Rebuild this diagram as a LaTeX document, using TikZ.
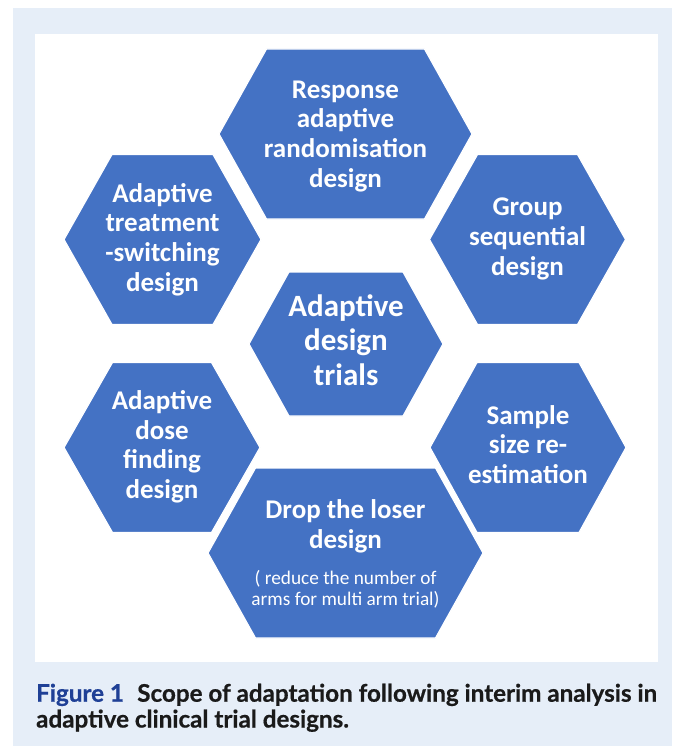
\documentclass[tikz,border=0pt]{standalone}
\usepackage{fontspec}
\setmainfont{Carlito}
\newfontfamily\capfont[BoldFeatures={FakeBold=0.6}]{Lato}
\definecolor{hexblue}{HTML}{4472C4}
\definecolor{panelblue}{HTML}{E6EEF8}
\definecolor{capblue}{HTML}{1F4096}
\definecolor{captext}{HTML}{1A1A1A}
\newcommand\hexshape[5]{% cx cy halfwidth halfheight inset
  \fill[hexblue, draw=white, line width=1.2pt]
    (#1-#3,#2) -- (#1-#3+#5,#2-#4) -- (#1+#3-#5,#2-#4) -- (#1+#3,#2)
    -- (#1+#3-#5,#2+#4) -- (#1-#3+#5,#2+#4) -- cycle;}
\tikzset{
  hexlabel/.style={text=white, font=\bfseries\fontsize{27}{29.6}\selectfont, align=center, anchor=base, inner sep=0pt},
  biglabel/.style={text=white, font=\bfseries\fontsize{31}{34.2}\selectfont, align=center, anchor=base, inner sep=0pt},
  smalllabel/.style={text=white, font=\fontsize{19.3}{21}\selectfont, align=center, anchor=base, inner sep=0pt},
  captionline/.style={text=captext, font=\capfont\bfseries\fontsize{24.2}{26}\selectfont, anchor=base west, inner sep=0pt}
}
\begin{document}
\begin{tikzpicture}[x=1pt,y=-1pt]
\useasboundingbox (0,0) rectangle (679,746);
\fill[panelblue] (12.7,7.7) rectangle (672,746);
\fill[white] (35,33.7) rectangle (658.3,661.7);
% hexagons
\hexshape{345.5}{134}{126.5}{85}{47.5}
\hexshape{162.5}{239.5}{98.5}{85}{48}
\hexshape{527.5}{239.5}{98}{85}{48}
\hexshape{346}{344}{97}{72}{40}
\hexshape{162}{447.5}{98}{85}{48.5}
\hexshape{528}{447.5}{98}{85}{47}
\hexshape{345.5}{553}{137.5}{85}{47.5}
% labels (anchor base = baseline of the last line)
\node[hexlabel] (resp) at (345.5,187) {Response\\adaptive\\randomisation\\design};
\node[hexlabel] (treat) at (162.5,291) {Adaptive\\treatment\\-switching\\design};
\node[hexlabel] (group) at (527.5,275) {Group\\sequential\\design};
\node[biglabel] (center) at (346,385) {Adaptive\\design\\trials};
\node[hexlabel] (dose) at (162,498.5) {Adaptive\\dose\\finding\\design};
\node[hexlabel] (sample) at (528,483.3) {Sample\\size re-\\estimation};
\node[hexlabel] (drop) at (345.5,548.3) {Drop the loser\\design};
\node[smalllabel] (dropnote) at (345.5,605) {( reduce the number of\\arms for multi arm trial)};
% caption
\node[captionline] (cap1) at (36,701.7) {{\color{capblue}Figure 1}\hspace{0.55em}Scope of adaptation following interim analysis in};
\node[captionline] (cap2) at (36,727.5) {adaptive clinical trial designs.};
\end{tikzpicture}
\end{document}
